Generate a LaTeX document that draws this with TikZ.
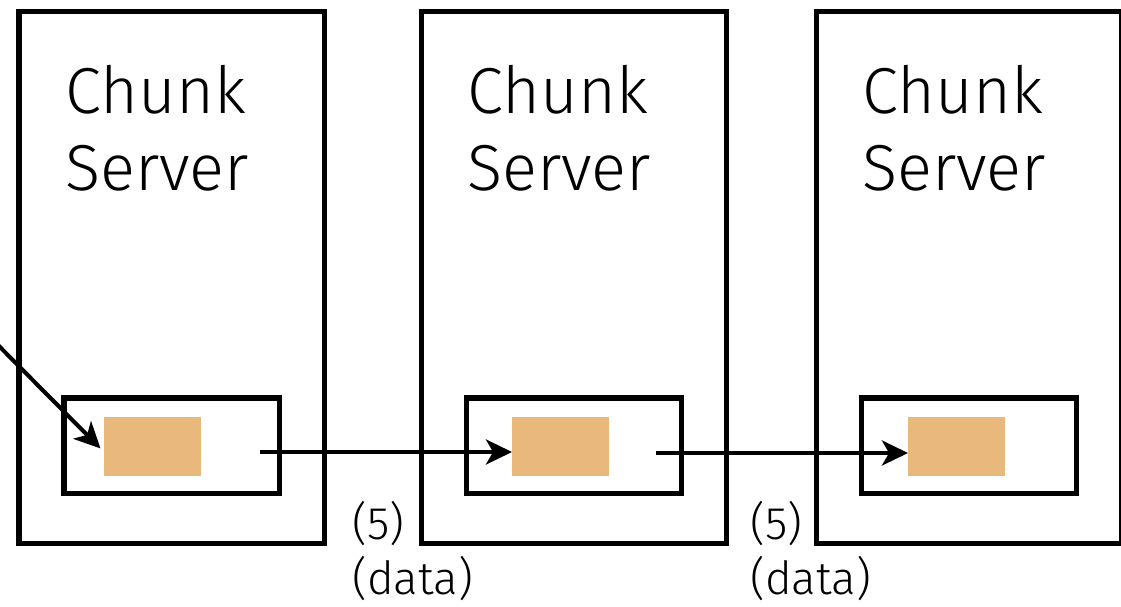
\documentclass[tikz,border=0pt]{standalone}
\usepackage{fontspec}
\IfFontExistsTF{Fira Sans Light}{\setmainfont{Fira Sans Light}}{\setmainfont{TeX Gyre Heros}}
\usetikzlibrary{arrows.meta}
\definecolor{chunkfill}{RGB}{233,184,124}

\begin{document}
\begin{tikzpicture}[x=0.02cm,y=-0.02cm,
  server/.style={draw, line width=2.85pt, anchor=north west, outer sep=0pt,
    minimum width=6.12cm, minimum height=10.64cm},
  chunk/.style={draw, line width=2.85pt, anchor=north west, outer sep=0pt,
    minimum width=4.32cm, minimum height=1.92cm},
  block/.style={fill=chunkfill, anchor=north west, outer sep=0pt, inner sep=0pt,
    minimum width=1.94cm, minimum height=1.18cm},
  title/.style={anchor=north west, inner sep=0pt, align=left,
    font=\fontsize{37}{44}\selectfont},
  note/.style={anchor=north west, inner sep=0pt, align=left,
    font=\fontsize{26}{31}\selectfont},
  flow/.style={line width=2.3pt, -{Stealth[length=0.52cm, width=0.5cm, inset=0.14cm]}}]
\useasboundingbox (0,0) rectangle (1121,607);

% three chunk servers
\foreach \x/\b/\n in {19/104/1,421/512/2,816/908/3}{
  \node[server] (srv\n) at (\x,12) {};
  \node[chunk] (chk\n) at (\x+45,398) {};
  \node[block] (blk\n) at (\b,417) {};
  \node[title] (ttl\n) at (\x+46,65) {Chunk\\Server};
}

% data pushed along the chain
\coordinate (src) at (-10,337);
\coordinate (out1) at (260,452);
\coordinate (out2) at (656,453);
\draw[flow, shorten >=0.1cm] (src) -- ([yshift=-0.11cm]blk1.west);
\draw[flow] (out1) -- (out1 -| blk2.west);
\draw[flow] (out2) -- (out2 -| blk3.west);

\node[note] (lbl1) at (352,501) {(5)\\(data)};
\node[note] (lbl2) at (750,501) {(5)\\(data)};
\end{tikzpicture}
\end{document}
